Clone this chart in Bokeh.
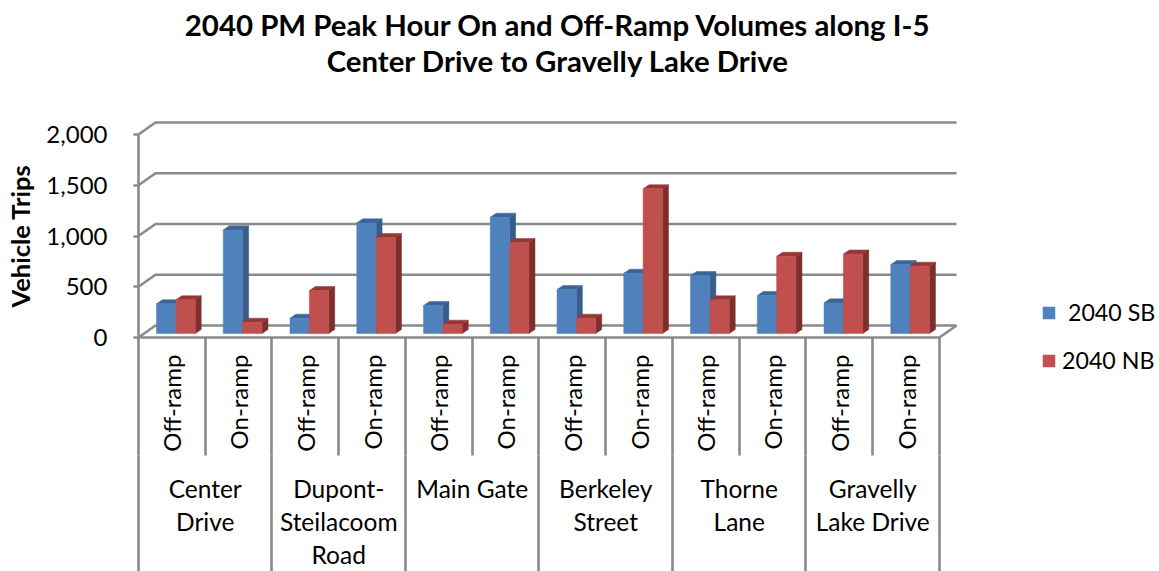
import math
from bokeh.plotting import figure
from bokeh.models import (LinearAxis, FixedTicker, Range1d, Legend, LegendItem, Label,
                          ColumnDataSource)
from bokeh.embed import file_html
from bokeh.resources import INLINE

groups = ["Center\nDrive", "Dupont-\nSteilacoom\nRoad", "Main Gate",
          "Berkeley\nStreet", "Thorne\nLane", "Gravelly\nLake Drive"]
ramps = ["Off-ramp", "On-ramp"]
sb_2040 = [293, 1021, 151, 1090, 276, 1146, 433, 594, 571, 374, 302, 680]
nb_2040 = [332, 111, 424, 946, 92, 897, 151, 1426, 332, 761, 783, 663]
y_ticks = [0, 500, 1000, 1500, 2000]
title_lines = ["2040 PM Peak Hour On and Off-Ramp Volumes along I-5",
               "Center Drive to Gravelly Lake Drive"]

FONT = "Lato"
TEXT = "#000000"
GRID = "#8a8a8a"
BLUE, BLUE_SIDE, BLUE_TOP = "#4f81bd", "#385d8a", "#3a6598"
RED, RED_SIDE, RED_TOP = "#c0504d", "#7e2f2d", "#953735"

n = len(sb_2040)
WALL_DX, WALL_DY = 0.255, 118      # oblique offset of the back wall
BAR_DX, BAR_DY = 0.09, 40          # oblique offset of a bar's depth
BAR_W = 0.29
BAR_START = 0.27
BASE = 39

p = figure(width=1159, height=571, output_backend="svg", toolbar_location=None,
           x_range=Range1d(-2.067, 15.296), y_range=Range1d(-2305, 3320),
           min_border_left=0, min_border_right=0, min_border_top=0, min_border_bottom=0,
           outline_line_color=None, background_fill_color="white", border_fill_color="white",
           x_axis_type=None, y_axis_type=None)
p.grid.visible = False

# walls and floor
gx, gy = [], []
for v in y_ticks:
    gx.append([0, WALL_DX, n + WALL_DX])
    gy.append([v, v + WALL_DY, v + WALL_DY])
gx.append([n, n + WALL_DX])
gy.append([0, WALL_DY])
p.multi_line(gx, gy, line_color=GRID, line_width=2.6)


def bars(values, offset, face, side, top):
    lefts = [i + offset for i in range(n)]
    rights = [x + BAR_W for x in lefts]
    tops = [BASE + v for v in values]
    p.patches([[r, r + BAR_DX, r + BAR_DX, r] for r in rights],
              [[BASE, BASE + BAR_DY, t + BAR_DY, t] for t in tops],
              fill_color=side, line_color=side, line_width=0.5)
    p.patches([[l, l + BAR_DX, r + BAR_DX, r] for l, r in zip(lefts, rights)],
              [[t, t + BAR_DY, t + BAR_DY, t] for t in tops],
              fill_color=top, line_color=top, line_width=0.5)
    src = ColumnDataSource(dict(left=lefts, right=rights, top=tops, bottom=[BASE] * n))
    return p.quad(left="left", right="right", top="top", bottom="bottom", source=src,
                  fill_color=face, line_color=face, line_width=0.5)


r_sb = bars(sb_2040, BAR_START, BLUE, BLUE_SIDE, BLUE_TOP)
r_nb = bars(nb_2040, BAR_START + BAR_W, RED, RED_SIDE, RED_TOP)

# y axis
ya = LinearAxis(ticker=FixedTicker(ticks=y_ticks), bounds=(0, 2000), fixed_location=0,
                major_label_text_font=FONT, major_label_text_font_size="24px",
                major_label_text_color=TEXT, major_label_standoff=26,
                major_tick_out=5, major_tick_in=0, minor_tick_out=0, minor_tick_in=0,
                major_tick_line_color=GRID, major_tick_line_width=2.6,
                axis_line_color=GRID, axis_line_width=2.6)
ya.major_label_overrides = {v: f"{v:,}" for v in y_ticks}
p.add_layout(ya, "left")

p.add_layout(Label(x=-1.768, y=1000, text="Vehicle Trips", angle=math.pi / 2,
                   text_align="center", text_baseline="middle", text_font=FONT,
                   text_font_style="bold", text_font_size="25.5px", text_color=TEXT))

# ramp level of the x axis
xa1 = LinearAxis(ticker=FixedTicker(ticks=[i + 0.5 for i in range(n)],
                                    minor_ticks=list(range(n + 1))),
                 bounds=(0, n), fixed_location=0,
                 major_label_overrides={i + 0.5: ramps[i % 2] for i in range(n)},
                 major_label_orientation=math.pi / 2,
                 major_label_text_font=FONT, major_label_text_font_size="24px",
                 major_label_text_color=TEXT, major_label_standoff=-101,
                 major_tick_out=0, major_tick_in=0, minor_tick_out=118, minor_tick_in=0,
                 minor_tick_line_color=GRID, minor_tick_line_width=2.6,
                 axis_line_color=GRID, axis_line_width=2.6)
p.add_layout(xa1, "below")

# group level of the x axis
xa2 = LinearAxis(ticker=FixedTicker(ticks=[2 * i + 1 for i in range(len(groups))],
                                    minor_ticks=[2 * i for i in range(len(groups) + 1)]),
                 bounds=(0, n), fixed_location=-1162.5,
                 major_label_overrides={2 * i + 1: g for i, g in enumerate(groups)},
                 major_label_text_font=FONT, major_label_text_font_size="24.5px",
                 major_label_text_color=TEXT, major_label_text_line_height=1.15,
                 major_label_standoff=-98,
                 major_tick_out=0, major_tick_in=0, minor_tick_out=116, minor_tick_in=0,
                 minor_tick_line_color=GRID, minor_tick_line_width=2.6,
                 axis_line_color=None)
p.add_layout(xa2, "below")

# title
for line, y in zip(title_lines, [3085, 2727]):
    p.add_layout(Label(x=6.285, y=y, text=line, text_align="center", text_baseline="middle",
                       text_font=FONT, text_font_style="bold", text_font_size="29.4px",
                       text_color=TEXT))

legend = Legend(items=[LegendItem(label="\u00a02040 SB", renderers=[r_sb]),
                       LegendItem(label="2040 NB", renderers=[r_nb])],
                location=(1041, 197), orientation="vertical",
                glyph_width=15, glyph_height=15, label_standoff=6, spacing=20,
                padding=0, margin=0, border_line_color=None, background_fill_alpha=0,
                label_text_font=FONT, label_text_font_size="23.2px", label_text_color=TEXT)
p.add_layout(legend, "center")

open("out.html", "w").write(file_html(p, INLINE))
